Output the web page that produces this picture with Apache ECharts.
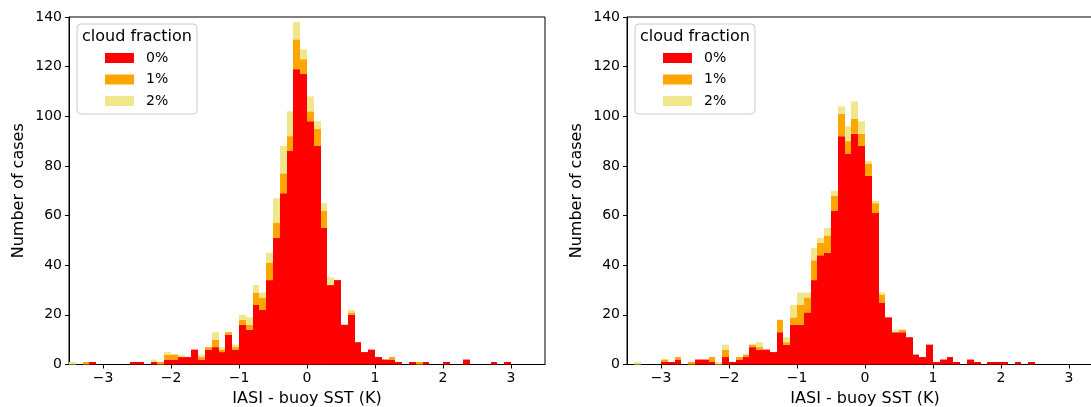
<!DOCTYPE html>
<html>
<head>
<meta charset="utf-8">
<script src="https://cdn.jsdelivr.net/npm/echarts@6/dist/echarts.min.js"></script>
<style>
  html, body { margin: 0; padding: 0; background: #fff; }
  #chart { width: 1091px; height: 407px; }
</style>
</head>
<body>
<div id="chart"></div>
<script>
// Histogram bins: 70 bins of 0.1 K starting at -3.5 K
const BIN_START = -3.5;
const BIN_WIDTH = 0.1;
const FRACTIONS = ['0%', '1%', '2%'];
const COLORS = ['#ff0000', '#ffa500', '#f0e68c'];
const X_TICKS = [-3, -2, -1, 0, 1, 2, 3];

// Left panel: counts per bin for each cloud fraction
const leftCF0 = [0,0,0,1,0,0,0,0,0,1,
  1,0,1,0,2,2,3,3,6,2,
  6,7,5,12,6,16,14,24,22,34,
  51,69,86,119,117,98,88,55,32,34,
  16,20,9,5,6,3,2,2,1,0,
  1,0,1,0,0,1,0,0,2,0,
  0,0,1,0,1,0,0,0,0,0];
const leftCF1 = [0,0,1,0,0,0,0,0,0,0,
  0,0,0,1,2,2,0,0,0,1,
  1,3,1,1,1,2,2,5,5,7,
  6,8,6,12,6,4,7,7,0,0,
  0,1,0,0,0,0,0,1,0,0,
  0,1,0,0,0,0,0,0,0,0,
  0,0,0,0,0,0,0,0,0,0];
const leftCF2 = [1,0,0,0,0,0,0,0,0,0,
  0,0,1,0,1,0,1,0,0,1,
  0,3,1,0,1,2,3,3,2,4,
  10,11,10,7,4,6,3,3,3,0,
  0,1,0,0,0,0,0,0,0,0,
  0,0,0,0,0,0,0,0,0,0,
  0,0,0,0,0,0,0,0,0,0];

// Right panel: counts per bin for each cloud fraction
const rightCF0 = [0,0,0,0,0,1,1,2,0,0,
  2,2,1,0,3,1,2,3,7,6,
  6,5,13,8,16,16,21,34,44,45,
  62,92,85,93,88,76,61,25,19,13,
  13,11,4,3,8,1,2,3,1,0,
  2,1,0,1,1,1,0,1,0,1,
  0,0,0,0,0,0,0,0,0,0];
const rightCF1 = [0,0,0,0,0,1,0,1,0,1,
  0,0,2,0,3,0,1,1,1,1,
  0,0,5,1,3,8,6,8,5,7,
  6,9,5,6,5,5,4,3,0,0,
  1,0,0,0,0,0,0,0,0,0,
  0,0,0,0,0,0,0,0,0,0,
  0,0,0,0,0,0,0,0,0,0];
const rightCF2 = [0,1,0,0,0,0,0,0,0,0,
  0,0,0,1,2,0,0,0,0,2,
  0,0,0,2,5,5,2,5,2,3,
  2,3,6,7,5,1,1,1,0,1,
  0,0,0,0,0,0,0,0,0,0,
  0,0,0,0,0,0,0,0,0,0,
  0,0,0,0,0,0,0,0,0,0];

const FONT = 'DejaVu Sans';

// Stack the layers: each segment is [binStart, binEnd, base, top]
function stackedSegments(layers, k) {
  const out = [];
  for (let i = 0; i < layers[k].length; i++) {
    let base = 0;
    for (let j = 0; j < k; j++) base += layers[j][i];
    const v = layers[k][i];
    if (v > 0) {
      const x0 = +(BIN_START + i * BIN_WIDTH).toFixed(2);
      const x1 = +(BIN_START + (i + 1) * BIN_WIDTH).toFixed(2);
      out.push([x0, x1, base, base + v]);
    }
  }
  return out;
}

// One histogram segment; horizontal edges snapped to whole pixels so
// neighbouring bins meet without hairline seams
function renderBar(params, api) {
  const p0 = api.coord([api.value(0), api.value(3)]);
  const p1 = api.coord([api.value(1), api.value(2)]);
  const xa = Math.round(p0[0]);
  const xb = Math.round(p1[0]);
  return {
    type: 'rect',
    shape: { x: xa, y: p0[1], width: xb - xa, height: p1[1] - p0[1] },
    style: { fill: api.visual('color') }
  };
}

const minusFmt = v => (v < 0 ? '\u2212' + Math.abs(v) : String(v));

const panels = [
  { left: 69, layers: [leftCF0, leftCF1, leftCF2] },
  { left: 627, layers: [rightCF0, rightCF1, rightCF2] }
];

const PLOT_W = 476;
const grids = [], xAxes = [], yAxes = [], series = [], legends = [], graphics = [];

panels.forEach((p, idx) => {
  grids.push({
    left: p.left, top: 17, width: PLOT_W, height: 347.5,
    outerBoundsMode: 'none', containLabel: false,
    show: true, borderColor: '#000', borderWidth: 1, backgroundColor: 'transparent'
  });
  xAxes.push({
    type: 'value', gridIndex: idx, min: -3.5, max: 3.5,
    name: 'IASI - buoy SST (K)', nameLocation: 'middle', nameGap: 26,
    nameTextStyle: { fontFamily: FONT, fontSize: 16, color: '#000' },
    axisLine: { show: true, onZero: false, lineStyle: { color: '#000', width: 1 } },
    axisTick: { show: true, length: 4, customValues: X_TICKS, lineStyle: { color: '#000' } },
    axisLabel: { customValues: X_TICKS, formatter: minusFmt, margin: 7,
      fontFamily: FONT, fontSize: 14, color: '#000' },
    splitLine: { show: false }
  });
  yAxes.push({
    type: 'value', gridIndex: idx, min: 0, max: 140, interval: 20,
    name: 'Number of cases', nameLocation: 'middle', nameGap: 42,
    nameTextStyle: { fontFamily: FONT, fontSize: 16, color: '#000' },
    axisLine: { show: true, onZero: false, lineStyle: { color: '#000', width: 1 } },
    axisTick: { show: true, length: 4, lineStyle: { color: '#000' } },
    axisLabel: { margin: 7, fontFamily: FONT, fontSize: 14, color: '#000' },
    splitLine: { show: false }
  });
  FRACTIONS.forEach((name, k) => {
    series.push({
      type: 'custom', name: name, xAxisIndex: idx, yAxisIndex: idx,
      renderItem: renderBar, itemStyle: { color: COLORS[k] },
      encode: { x: [0, 1], y: [2, 3] },
      data: stackedSegments(p.layers, k), z: 2
    });
  });

  const lx = p.left + 8;
  graphics.push({
    type: 'rect', z: 10,
    shape: { x: lx, y: 24, width: 120, height: 90, r: 4 },
    style: { fill: 'rgba(255,255,255,0.8)', stroke: '#cccccc', lineWidth: 1 }
  });
  graphics.push({
    type: 'text', z: 11, x: lx + 60, y: 36.5,
    style: { text: 'cloud fraction', fontFamily: FONT, fontSize: 16, fill: '#000',
      align: 'center', verticalAlign: 'middle' }
  });
  legends.push({
    data: FRACTIONS, orient: 'vertical', left: lx + 28, top: 51, padding: 0,
    itemWidth: 29, itemHeight: 10, itemGap: 7.5, icon: 'rect', z: 20,
    selectedMode: false,
    textStyle: { fontFamily: FONT, fontSize: 14, color: '#000', padding: [0, 0, 0, 7] }
  });
});

const chart = echarts.init(document.getElementById('chart'), null, { renderer: 'canvas' });
chart.setOption({
  animation: false,
  backgroundColor: '#fff',
  grid: grids,
  xAxis: xAxes,
  yAxis: yAxes,
  legend: legends,
  graphic: { elements: graphics },
  series: series
});
</script>
</body>
</html>
